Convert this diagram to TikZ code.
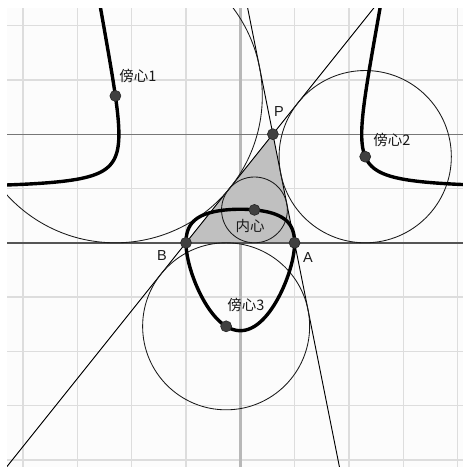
\documentclass[tikz,border=0pt]{standalone}
\usepackage{fontspec}
\setmainfont{Liberation Sans}
\newfontfamily\cjk{Noto Sans CJK SC}
\usetikzlibrary{calc}
\definecolor{bgc}{HTML}{FCFCFC}
\definecolor{gridc}{HTML}{DDDDDD}
\definecolor{axisc}{HTML}{B8B8B8}
\definecolor{abc}{HTML}{555555}
\definecolor{hc}{HTML}{777777}
\definecolor{trif}{HTML}{C0C0C0}
\definecolor{dotf}{HTML}{404040}
\definecolor{dotd}{HTML}{262626}
\definecolor{txt}{HTML}{1A1A1A}
\begin{document}
\begin{tikzpicture}[x=54.3pt,y=54.3pt,
  declare function={SS(\t)=sqrt((\t+1)^2+4)+sqrt((\t-1)^2+4);},
  gridline/.style={draw=gridc,line width=1.3pt},
  thinline/.style={draw=black,line width=0.95pt},
  circ/.style={draw=black!90,line width=0.85pt},
  locus/.style={draw=black,line width=3.4pt,line join=round,line cap=round},
  dotpt/.style={circle,fill=dotf,draw=dotd,line width=0.6pt,inner sep=0pt,minimum size=11pt},
  lbl/.style={text=txt,font=\fontsize{14.5}{16}\selectfont,inner sep=0pt},
  clbl/.style={text=txt,font=\cjk\fontsize{14.5}{16}\selectfont,inner sep=0pt}]
\pgfmathsetmacro\tP{0.6}
\pgfmathsetmacro\Sv{SS(\tP)}
\pgfmathsetmacro\rI{4/(\Sv+2)}
\pgfmathsetmacro\rIA{2*\Sv/(\Sv-2*\tP)}
\pgfmathsetmacro\rIB{2*\Sv/(\Sv+2*\tP)}
\pgfmathsetmacro\rIC{4/(\Sv-2)}
% page and plot area
\useasboundingbox (-4.4254,-4.1289) rectangle (4.1013,4.4715);
\fill[white] (-4.4254,-4.1289) rectangle (4.1013,4.4715);
\clip (-4.296,-4.1289) rectangle (4.1013,4.324);
\fill[bgc] (-4.296,-4.1289) rectangle (4.1013,4.324);
% grid
\foreach \k in {-4,...,4} {
  \draw[gridline] (\k,-5) -- (\k,5);
  \draw[gridline] (-5,\k) -- (5,\k);
}
% y axis
\draw[draw=axisc,line width=3pt] (0,-5) -- (0,5);
% points
\coordinate (A) at (1,0);
\coordinate (B) at (-1,0);
\coordinate (P) at (\tP,2);
\coordinate (I) at ({2*\tP/\Sv},{\rI});
\coordinate (IA) at ({-\Sv/2},{\rIA});
\coordinate (IB) at ({\Sv/2},{\rIB});
\coordinate (IC) at ({-2*\tP/\Sv},{-\rIC});
% triangle
\fill[trif] (A) -- (B) -- (P) -- cycle;
% horizontal line through P
\coordinate (hl) at (-5,2);
\coordinate (hr) at (5,2);
\draw[draw=hc,line width=1pt] (hl) -- (hr);
% line AB
\coordinate (abl) at (-5,0);
\coordinate (abr) at (5,0);
\draw[draw=abc,line width=2.3pt] (abl) -- (abr);
% lines BP and AP
\draw[thinline] ($(B)!-2.6!(P)$) -- ($(B)!3!(P)$);
\draw[thinline] ($(A)!-2.6!(P)$) -- ($(A)!3!(P)$);
% circles
\draw[circ] (I) circle[radius=\rI];
\draw[circ] (IA) circle[radius=\rIA];
\draw[circ] (IB) circle[radius=\rIB];
\draw[circ] (IC) circle[radius=\rIC];
% loci
\draw[locus] plot[domain=-6:1.7,samples=260,variable=\t] ({-SS(\t)/2},{2*SS(\t)/(SS(\t)-2*\t)});
\draw[locus] plot[domain=-1.7:6,samples=260,variable=\t] ({SS(\t)/2},{2*SS(\t)/(SS(\t)+2*\t)});
\draw[locus] (B) -- plot[domain=-89.4:89.4,samples=300,variable=\u] ({2*tan(\u)/SS(tan(\u))},{4/(SS(tan(\u))+2)})
  -- (A) -- plot[domain=-89.4:89.4,samples=300,variable=\u] ({-2*tan(\u)/SS(tan(\u))},{-4/(SS(tan(\u))-2)}) -- cycle;
% dots
\node[dotpt] (nA) at (A) {};
\node[dotpt] (nB) at (B) {};
\node[dotpt] (nP) at (P) {};
\node[dotpt] (nI) at (I) {};
\node[dotpt] (nIA) at (IA) {};
\node[dotpt] (nIB) at (IB) {};
\node[dotpt] (nIC) at (IC) {};
% labels
\node[clbl] (tIA) at (-1.884,3.072) {傍心1};
\node[clbl] (tIB) at (2.794,1.893) {傍心2};
\node[clbl] (tIC) at (0.105,-1.145) {傍心3};
\node[clbl] (tI) at (0.179,0.309) {内心};
\node[lbl] (tP) at (0.713,2.427) {P};
\node[lbl] (tB) at (-1.442,-0.225) {B};
\node[lbl] (tA) at (1.247,-0.262) {A};
\end{tikzpicture}
\end{document}
